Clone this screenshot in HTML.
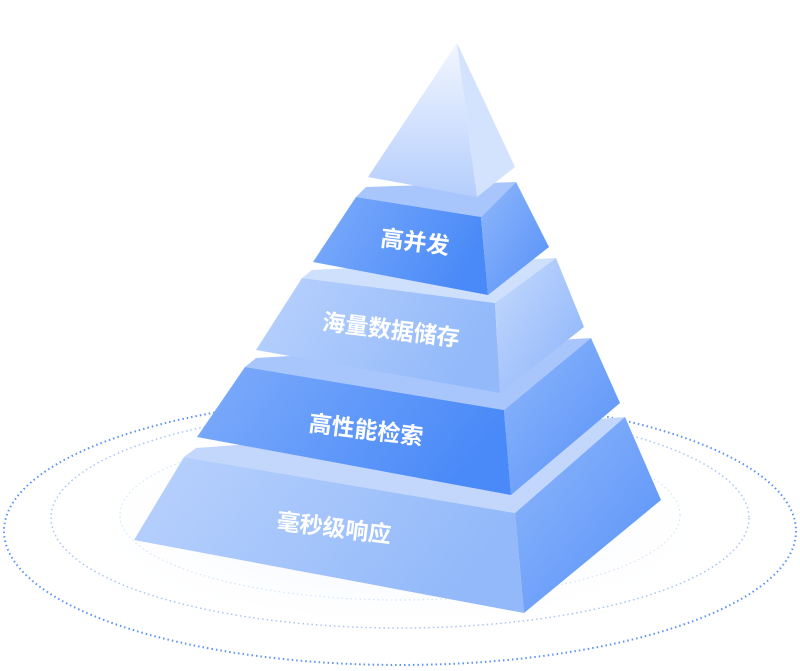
<!DOCTYPE html>
<html><head><meta charset="utf-8"><style>
html,body{margin:0;padding:0;background:#fff;}
svg{display:block}
text{font-family:"Liberation Sans","Noto Sans CJK SC",sans-serif;font-weight:bold;fill:#fff;}
</style></head><body>
<svg width="800" height="671" viewBox="0 0 800 671" xmlns="http://www.w3.org/2000/svg">
<defs>
<radialGradient id="glow" cx="50%" cy="50%" r="50%">
<stop offset="0" stop-color="#e4edfe" stop-opacity="0.9"/>
<stop offset="1" stop-color="#ffffff" stop-opacity="0"/>
</radialGradient>
<linearGradient id="dk" x1="0" y1="0" x2="1" y2="0.3">
<stop offset="0" stop-color="#7eacfb"/><stop offset="1" stop-color="#4a8af8"/>
</linearGradient>
<linearGradient id="lt" x1="0" y1="0" x2="1" y2="0.3">
<stop offset="0" stop-color="#b9d2fc"/><stop offset="1" stop-color="#93b9fa"/>
</linearGradient>
<linearGradient id="rdk" x1="0" y1="0" x2="1" y2="1">
<stop offset="0" stop-color="#8fb7fb"/><stop offset="1" stop-color="#5590f8"/>
</linearGradient>
<linearGradient id="rlt" x1="0" y1="0" x2="1" y2="1">
<stop offset="0" stop-color="#c6dafd"/><stop offset="1" stop-color="#89b2fa"/>
</linearGradient>
<linearGradient id="tip" x1="0" y1="0" x2="0" y2="1">
<stop offset="0" stop-color="#f2f6ff"/><stop offset="1" stop-color="#b5cefc"/>
</linearGradient>
</defs>
<ellipse cx="400" cy="525" rx="330" ry="110" fill="url(#glow)"/>
<ellipse cx="400" cy="531" rx="396" ry="134" fill="none" stroke="#5b92f3" stroke-width="2" stroke-dasharray="1.5 3"/>
<ellipse cx="400" cy="518" rx="349" ry="110" fill="none" stroke="#a9c5f6" stroke-width="1.5" stroke-dasharray="1.5 3"/>
<ellipse cx="400" cy="515" rx="280" ry="85" fill="none" stroke="#d6e3fb" stroke-width="1.2" stroke-dasharray="1.5 3"/>

<!-- tier5 -->
<polygon points="184,457 196,448 625,417 515,513" fill="#c3d7fd"/>
<polygon points="184,457 515,513 524,613 134,540" fill="url(#lt)"/>
<polygon points="515,513 625,417 661,500 524,613" fill="url(#rdk)"/>
<!-- tier4 -->
<polygon points="245,367 256,358 591,338 504,410" fill="#a9c6fc"/>
<polygon points="245,367 504,410 511,495 197,437" fill="url(#dk)"/>
<polygon points="504,410 591,338 620,403 511,495" fill="url(#rdk)"/>
<!-- tier3 -->
<polygon points="302,278 312,270 556,258 495,303" fill="#cfe0fd"/>
<polygon points="302,278 495,303 500,393 256,350" fill="url(#lt)"/>
<polygon points="495,303 556,258 584,327 500,393" fill="url(#rlt)"/>
<!-- tier2 -->
<polygon points="356,197 366,187 516,182 481,217" fill="#a9c6fc"/>
<polygon points="356,197 481,217 488,295 313,262" fill="url(#dk)"/>
<polygon points="481,217 516,182 549,247 488,295" fill="url(#rdk)"/>
<!-- tip -->
<polygon points="457,43 368,177 477,197" fill="url(#tip)"/>
<polygon points="457,43 477,197 515,167" fill="#d3e2fd"/>

<text x="415" y="250" font-size="23" text-anchor="middle" transform="rotate(7 415 242)">高并发</text>
<text x="391" y="338" font-size="23" text-anchor="middle" transform="rotate(7 391 330)">海量数据储存</text>
<text x="366" y="438" font-size="23" text-anchor="middle" transform="rotate(7 366 430)">高性能检索</text>
<text x="334" y="536" font-size="23" text-anchor="middle" transform="rotate(7 334 528)">毫秒级响应</text>
</svg>
</body></html>
